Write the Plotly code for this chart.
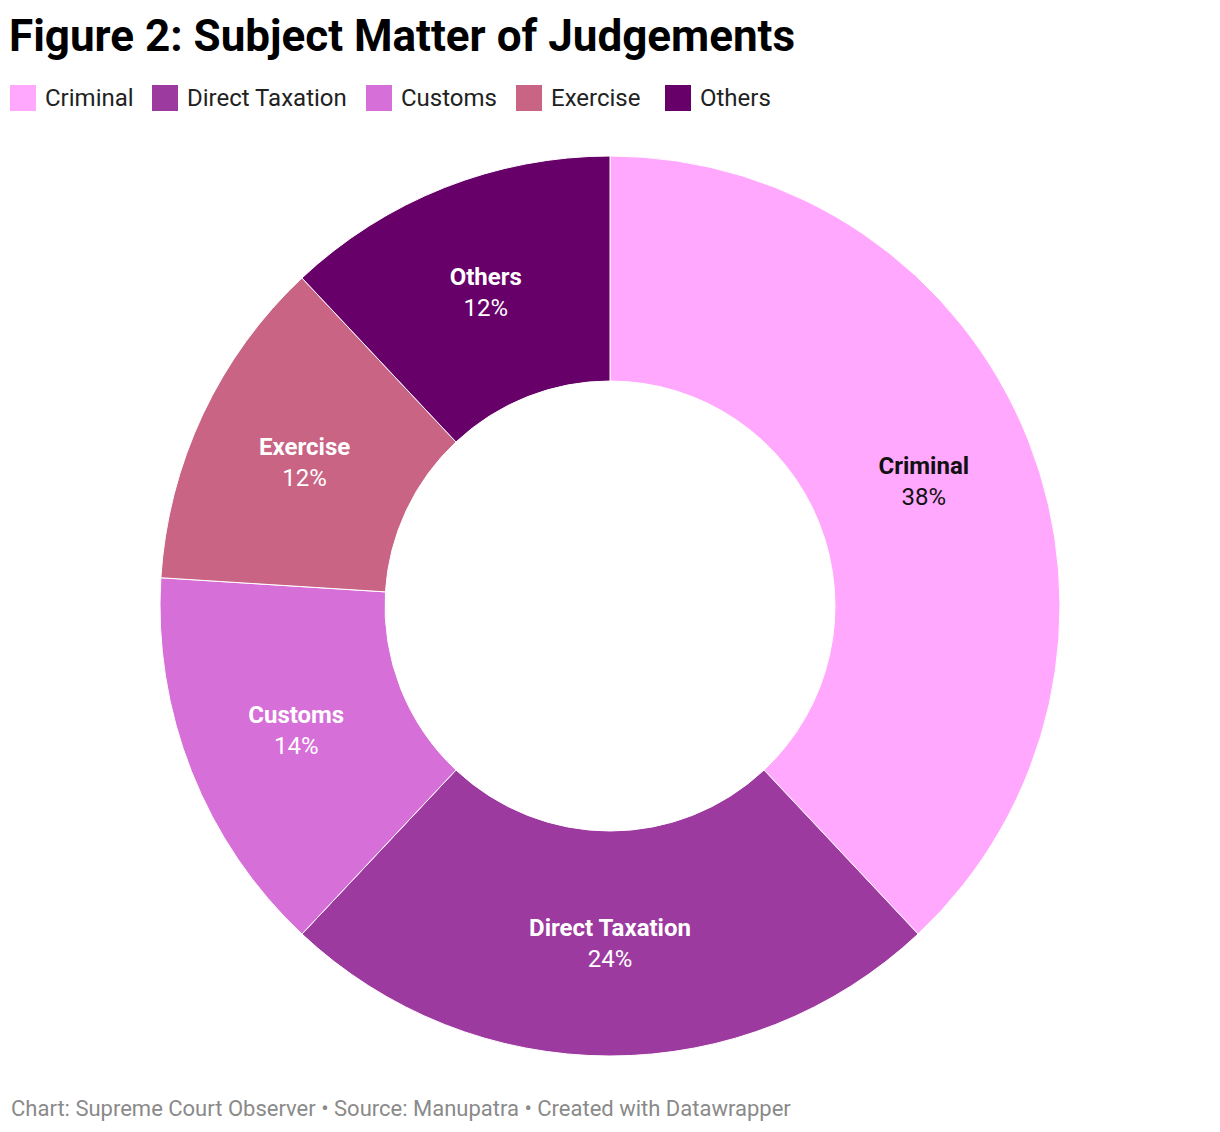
import plotly.graph_objects as go

# ---- data ----
categories = ["Criminal", "Direct Taxation", "Customs", "Exercise", "Others"]
values = [38, 24, 14, 12, 12]
colors = ["#FFA8FE", "#9D3AA0", "#D66FD8", "#C96484", "#670068"]
text_colors = ["#111111", "#FFFFFF", "#FFFFFF", "#FFFFFF", "#FFFFFF"]

title_text = "Figure 2: Subject Matter of Judgements"
footer_text = "Chart: Supreme Court Observer \u2022 Source: Manupatra \u2022 Created with Datawrapper"

W, H = 1220, 1132
FONT = "Roboto"


def px(x):
    return x / W


def py(y):
    return 1 - y / H


fig = go.Figure()
fig.add_trace(go.Pie(
    labels=categories,
    values=values,
    hole=0.5,
    sort=False,
    direction="clockwise",
    rotation=0,
    marker=dict(colors=colors, line=dict(color="#FFFFFF", width=1)),
    texttemplate="<b>%{label}</b><br>%{percent:.0%}",
    textposition="inside",
    insidetextorientation="horizontal",
    insidetextfont=dict(family=FONT, size=24, color=text_colors),
    showlegend=False,
    hoverinfo="label+percent",
    domain=dict(x=[px(160), px(1060)], y=[py(1056), py(156)]),
))

# legend (manual, to get large square swatches)
legend_sw_x = [10, 152, 366, 516, 665]
shapes = []
annotations = []
for name, col, x0 in zip(categories, colors, legend_sw_x):
    shapes.append(dict(type="rect", xref="paper", yref="paper",
                       x0=px(x0), x1=px(x0 + 26), y0=py(111), y1=py(85),
                       fillcolor=col, line=dict(width=0)))
    annotations.append(dict(text=name, xref="paper", yref="paper",
                            x=px(x0 + 33), y=py(98), xanchor="left", yanchor="middle",
                            showarrow=False, font=dict(family=FONT, size=24, color="#222222")))

annotations.append(dict(text=f"<b>{title_text}</b>", xref="paper", yref="paper",
                        x=px(7), y=py(36), xanchor="left", yanchor="middle",
                        showarrow=False, font=dict(family=FONT, size=44, color="#000000")))
annotations.append(dict(text=footer_text, xref="paper", yref="paper",
                        x=px(9), y=py(1108), xanchor="left", yanchor="middle",
                        showarrow=False, font=dict(family=FONT, size=22, color="#8A8A8A")))

fig.update_layout(
    width=W, height=H,
    margin=dict(l=0, r=0, t=0, b=0),
    paper_bgcolor="#FFFFFF",
    plot_bgcolor="#FFFFFF",
    shapes=shapes,
    annotations=annotations,
    font=dict(family=FONT),
)

fig.write_html("out.html", config={"displayModeBar": False},
               post_script="document.body.style.margin='0';document.body.style.overflow='hidden';")
